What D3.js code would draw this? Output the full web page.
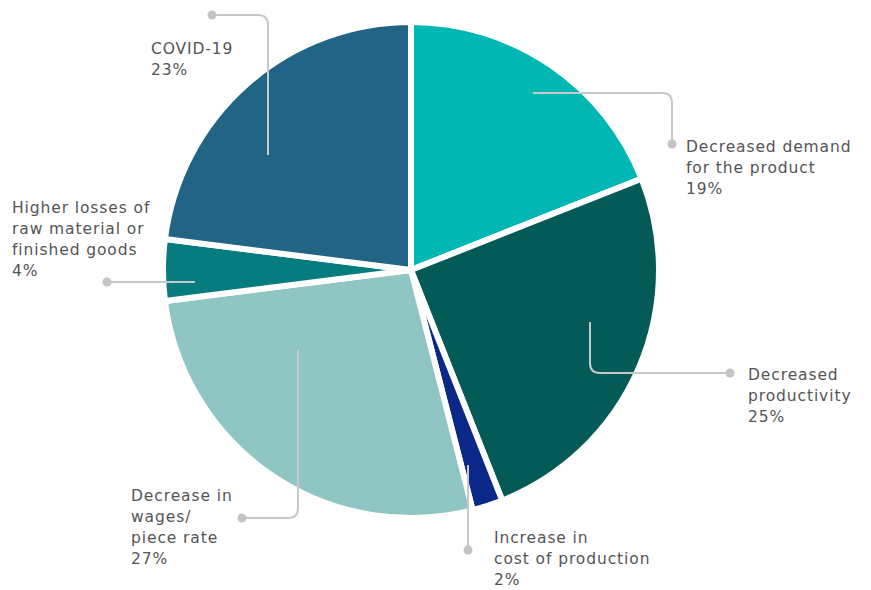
<!DOCTYPE html>
<html>
<head>
<meta charset="utf-8">
<script src="https://cdn.jsdelivr.net/npm/d3@7"></script>
<style>
  html, body { margin: 0; padding: 0; background: #fff; }
  svg { display: block; }
  .lbl { font-family: "DejaVu Sans", "Noto Sans", sans-serif; font-size: 15.5px; letter-spacing: 0.9px; fill: #555; }
</style>
</head>
<body>
<svg id="chart" width="871" height="590"></svg>
<script>
// Reasons reported for reduced income (share of responses, %)
const categories = [
  "Decreased demand for the product",
  "Decreased productivity",
  "Increase in cost of production",
  "Decrease in wages/ piece rate",
  "Higher losses of raw material or finished goods",
  "COVID-19"
];
const values = [19, 25, 2, 27, 4, 23];
const colors = ["#00b7b4", "#035a56", "#0b2888", "#8fc6c4", "#077c7f", "#216486"];

// Label text, broken into lines as printed
const labelLines = [
  ["Decreased demand", "for the product", "19%"],
  ["Decreased", "productivity", "25%"],
  ["Increase in", "cost of production", "2%"],
  ["Decrease in", "wages/", "piece rate", "27%"],
  ["Higher losses of", "raw material or", "finished goods", "4%"],
  ["COVID-19", "23%"]
];

// Callout layout: leader start (relative to pie centre), elbow order, dot and text position
const callouts = [
  { sx: 122, sy: -177, first: "h", dot: [672, 144], tx: 686, ty: 152 },
  { sx: 179, sy: 52,   first: "v", dot: [730, 373], tx: 748, ty: 380 },
  { sx: 57,  sy: 195,  first: "v", dot: [468, 550], tx: 494, ty: 543 },
  { sx: -113, sy: 80,  first: "v", dot: [242, 518], tx: 131, ty: 501 },
  { sx: -216, sy: 12,  first: "h", dot: [107, 282], tx: 12,  ty: 213 },
  { sx: -143, sy: -115, first: "v", dot: [212, 15], tx: 151, ty: 54 }
];

const svg = d3.select("#chart");
const cx = 411, cy = 270, R = 248;

const pie = d3.pie().sort(null).value(d => d)(values);
const arc = d3.arc().innerRadius(0).outerRadius(R);

const g = svg.append("g").attr("transform", `translate(${cx},${cy})`);
g.selectAll("path.slice")
  .data(pie)
  .join("path")
  .attr("class", "slice")
  .attr("d", arc)
  .attr("fill", (d, i) => colors[i])
  .attr("stroke", "#fff")
  .attr("stroke-width", 6)
  .attr("stroke-linejoin", "miter");

// Leader lines with a rounded elbow
function leaderPath(c) {
  const x0 = cx + c.sx, y0 = cy + c.sy;
  const [x1, y1] = c.dot;
  const r = 10;
  if (c.first === "v") {
    if (Math.abs(x1 - x0) < 1) return `M${x0},${y0}L${x1},${y1}`;
    const sy = Math.sign(y1 - y0), sx = Math.sign(x1 - x0);
    return `M${x0},${y0}L${x0},${y1 - sy * r}Q${x0},${y1} ${x0 + sx * r},${y1}L${x1},${y1}`;
  } else {
    if (Math.abs(y1 - y0) < 1) return `M${x0},${y0}L${x1},${y1}`;
    const sy = Math.sign(y1 - y0), sx = Math.sign(x1 - x0);
    return `M${x0},${y0}L${x1 - sx * r},${y0}Q${x1},${y0} ${x1},${y0 + sy * r}L${x1},${y1}`;
  }
}

const ann = svg.append("g");
ann.selectAll("path.leader")
  .data(callouts)
  .join("path")
  .attr("class", "leader")
  .attr("d", leaderPath)
  .attr("fill", "none")
  .attr("stroke", "#c8c8c8")
  .attr("stroke-width", 2);

ann.selectAll("circle.dot")
  .data(callouts)
  .join("circle")
  .attr("class", "dot")
  .attr("cx", d => d.dot[0])
  .attr("cy", d => d.dot[1])
  .attr("r", 4.5)
  .attr("fill", "#c4c4c4");

const texts = ann.selectAll("text.lbl")
  .data(callouts)
  .join("text")
  .attr("class", "lbl")
  .attr("x", d => d.tx)
  .attr("y", d => d.ty);
texts.each(function (d, i) {
  d3.select(this).selectAll("tspan")
    .data(labelLines[i])
    .join("tspan")
    .attr("x", d.tx)
    .attr("dy", (t, j) => j === 0 ? 0 : 21)
    .text(t => t);
});
</script>
</body>
</html>
